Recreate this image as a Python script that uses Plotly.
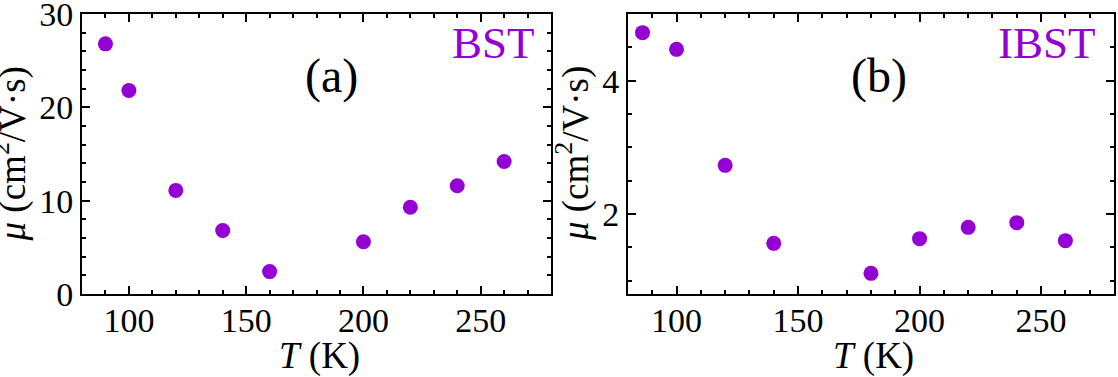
import plotly.graph_objects as go
from plotly.subplots import make_subplots

# panel (a) BST
t_bst = [90, 100, 120, 140, 160, 200, 220, 240, 260]
mu_bst = [26.8, 21.8, 11.1, 6.8, 2.4, 5.6, 9.3, 11.6, 14.2]

# panel (b) IBST
t_ibst = [86, 100, 120, 140, 180, 200, 220, 240, 260]
mu_ibst = [4.72, 4.47, 2.73, 1.56, 1.11, 1.63, 1.80, 1.87, 1.60]

x_ticks = [100, 150, 200, 250]
y_ticks_a = [0, 10, 20, 30]
y_ticks_b = [2, 4]

purple = "#9400D3"
serif = "Liberation Serif, Times New Roman, serif"
x_title = "<i>T</i> (K)"
y_title = "<i>μ</i> (cm<sup>2</sup>/V·s)"

fig = make_subplots(rows=1, cols=2)

fig.add_trace(go.Scatter(x=t_bst, y=mu_bst, mode="markers",
                         marker=dict(color=purple, size=15), showlegend=False), row=1, col=1)
fig.add_trace(go.Scatter(x=t_ibst, y=mu_ibst, mode="markers",
                         marker=dict(color=purple, size=15), showlegend=False), row=1, col=2)

axis_style = dict(
    showline=True, linecolor="black", linewidth=2, mirror="allticks",
    ticks="inside", ticklen=8, tickwidth=1.5, tickcolor="black",
    showgrid=False, zeroline=False, ticklabeloverflow="allow", automargin=False,
    tickfont=dict(family=serif, size=34, color="black"),
)
minor_style = dict(ticks="inside", ticklen=4, tickcolor="black", tickwidth=1.5)

fig.update_xaxes(**axis_style, range=[80, 280], tickvals=x_ticks, ticklabelstandoff=-5,
                 minor=dict(dtick=10, **minor_style))
fig.update_yaxes(**axis_style)
fig.update_yaxes(range=[0, 30], tickvals=y_ticks_a,
                 minor=dict(dtick=2, **minor_style), row=1, col=1)
fig.update_yaxes(range=[0.8, 5.0], tickvals=y_ticks_b,
                 minor=dict(dtick=0.5, **minor_style), row=1, col=2)

fig.update_layout(
    xaxis=dict(domain=[0, 0.4545]),
    xaxis2=dict(domain=[0.529, 1]),
)

# axis titles as paper annotations
title_font = dict(family=serif, size=37, color="black")
for xp in [0.2306, 0.7665]:
    fig.add_annotation(text=x_title, xref="paper", yref="paper", x=xp, y=-0.221,
                       xanchor="center", yanchor="middle", showarrow=False, font=title_font)
for xp in [-0.0693, 0.4758]:
    fig.add_annotation(text=y_title, xref="paper", yref="paper", x=xp, y=0.5,
                       xanchor="center", yanchor="middle", textangle=-90,
                       showarrow=False, font=title_font)

fig.add_annotation(text="(a)", xref="x domain", yref="y domain", x=0.531, y=0.78,
                   xanchor="center", yanchor="middle", showarrow=False,
                   font=dict(family=serif, size=48, color="black"))
fig.add_annotation(text="BST", xref="x domain", yref="y domain", x=0.97, y=0.895,
                   xanchor="right", yanchor="middle", showarrow=False,
                   font=dict(family=serif, size=45, color=purple))
fig.add_annotation(text="(b)", xref="x2 domain", yref="y2 domain", x=0.516, y=0.78,
                   xanchor="center", yanchor="middle", showarrow=False,
                   font=dict(family=serif, size=48, color="black"))
fig.add_annotation(text="IBST", xref="x2 domain", yref="y2 domain", x=0.967, y=0.895,
                   xanchor="right", yanchor="middle", showarrow=False,
                   font=dict(family=serif, size=45, color=purple))

fig.update_layout(
    width=1118, height=377,
    margin=dict(l=82, r=4, t=14, b=83),
    plot_bgcolor="white", paper_bgcolor="white",
)

# drop the default 8px body margin so the figure fills the window
fig.write_html("out.html", config={"displayModeBar": False},
               post_script="document.body.style.margin='0px';")
